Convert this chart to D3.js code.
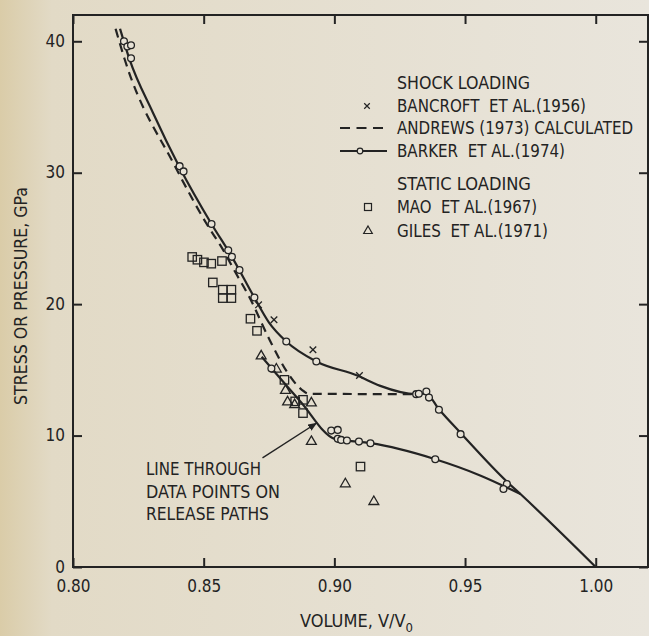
<!DOCTYPE html>
<html>
<head>
<meta charset="utf-8">
<script src="https://cdn.jsdelivr.net/npm/d3@7"></script>
<style>
  body { margin: 0; background: #e7e2d6; }
  svg text { font-family: "Liberation Sans Narrow", "DejaVu Sans Condensed", sans-serif; fill: #232323; white-space: pre; }
</style>
</head>
<body>
<svg id="canvas" width="649" height="636"></svg>
<script>
// Barker et al. (1974) - loading curve and its circles
let barkerLineV = [0.8180, 0.8215, 0.8305, 0.8408, 0.8530, 0.8608, 0.8694, 0.8750, 0.8816, 0.8931, 0.9090, 0.9173, 0.9313, 0.9350, 0.9400, 0.9483, 0.9660, 0.9712, 1.0000]
let barkerLineP = [40.95, 38.7, 34.6, 30.4, 26.1, 23.6, 20.5, 18.6, 17.16, 15.64, 14.55, 13.8, 13.15, 13.2, 12.0, 10.2, 6.5, 5.55, 0]
let barkerPtsV = [0.8195, 0.8208, 0.8222, 0.8222, 0.8408, 0.8423, 0.8530, 0.8594, 0.8608, 0.8637, 0.8694, 0.8816, 0.8931, 0.9313, 0.9323, 0.9352, 0.9362, 0.9400, 0.9483, 0.9660]
let barkerPtsP = [40.0, 39.6, 39.7, 38.7, 30.5, 30.1, 26.1, 24.1, 23.6, 22.6, 20.5, 17.16, 15.64, 13.15, 13.18, 13.35, 12.89, 11.96, 10.11, 6.32]

// line through data points on release paths
let releaseLineV = [0.8722, 0.8870, 0.9001, 0.9048, 0.9138, 0.9386, 0.9560, 0.9712]
let releaseLineP = [16.0, 12.6, 9.75, 9.62, 9.42, 8.2, 6.95, 5.55]
let releasePtsV = [0.8759, 0.8988, 0.9013, 0.9013, 0.9026, 0.9048, 0.9094, 0.9138, 0.9386, 0.9647]
let releasePtsP = [15.1, 10.38, 10.43, 9.75, 9.67, 9.62, 9.54, 9.42, 8.20, 5.94]

// Andrews (1973) calculated
let andrewsV = [0.8163, 0.8197, 0.8389, 0.8511, 0.8576, 0.8618, 0.8676, 0.8752, 0.8821, 0.8867, 0.8905, 0.9313]
let andrewsP = [40.95, 38.67, 30.54, 26.12, 24.07, 22.54, 20.49, 17.29, 14.78, 13.63, 13.18, 13.15]

// Bancroft et al. (1956)
let bancroftV = [0.8710, 0.8769, 0.8918, 0.9096]
let bancroftP = [19.95, 18.81, 16.53, 14.57]

// Mao et al. (1967)
let maoV = [0.8456, 0.8476, 0.8501, 0.8529, 0.8570, 0.8535, 0.8573, 0.8606, 0.8573, 0.8606, 0.8679, 0.8704, 0.8809, 0.8850, 0.8880, 0.8880, 0.9100]
let maoP = [23.59, 23.38, 23.18, 23.08, 23.28, 21.65, 21.10, 21.10, 20.46, 20.46, 18.89, 17.97, 14.24, 12.60, 12.72, 11.71, 7.64]

// Giles et al. (1971)
let gilesV = [0.8720, 0.8778, 0.8813, 0.8821, 0.8848, 0.8912, 0.8912, 0.9042, 0.9151]
let gilesP = [16.05, 15.05, 13.43, 12.55, 12.34, 12.47, 9.54, 6.32, 4.97]

let xTicks = [0.80, 0.85, 0.90, 0.95, 1.00]
let yTicks = [0, 10, 20, 30, 40]

// arrow of the note, from text to release line
let arrowV = [0.8725, 0.8931]
let arrowP = [8.30, 10.94]

let noteLines = ['LINE THROUGH', 'DATA POINTS ON', 'RELEASE PATHS']
let legendLabels = ['SHOCK LOADING', 'BANCROFT  ET AL.(1956)', 'ANDREWS (1973) CALCULATED', 'BARKER  ET AL.(1974)',
                    'STATIC LOADING', 'MAO  ET AL.(1967)', 'GILES  ET AL.(1971)']
let legendMarks = [null, 'x', 'dash', 'line', null, 'square', 'triangle']

// layout of the legend and note (pixels)
let legendY = [89, 112, 134, 157, 190, 213, 237]
let legendW = [133, 189, 236, 168, 134, 140, 151]
let noteW = [115, 134, 123]

let ink = '#232323'
let paper = '#e7e2d6'
let font = '"Liberation Sans Narrow", "DejaVu Sans Condensed", sans-serif'

let zip = (a, b) => a.map((v, i) => [v, b[i]])

let canvas = d3.select('#canvas')

// paper
let defs = canvas.append('defs')
let grad = defs.append('linearGradient').attr('id', 'paper')
grad.append('stop').attr('offset', '0%').attr('stop-color', '#dacca8')
grad.append('stop').attr('offset', '8%').attr('stop-color', '#e2dac6')
grad.append('stop').attr('offset', '100%').attr('stop-color', '#e9e5dc')
canvas.append('rect').attr('width', 649).attr('height', 636).attr('fill', 'url(#paper)')

defs.append('marker')
    .attr('id', 'head')
    .attr('viewBox', '0 0 10 10')
    .attr('refX', 9).attr('refY', 5)
    .attr('markerWidth', 9).attr('markerHeight', 9)
    .attr('markerUnits', 'userSpaceOnUse')
    .attr('orient', 'auto')
    .append('path').attr('d', 'M0,1 L10,5 L0,9 Z').attr('fill', ink)

let x = d3.scaleLinear().domain([0.80, 1.02]).range([73, 648])
let y = d3.scaleLinear().domain([0, 42]).range([567, 15])

let tick = 9

// axes, ticks point inward
let axBottom = canvas.append('g').attr('transform', 'translate(0,567)')
    .call(d3.axisBottom(x).tickValues(xTicks).tickSize(-tick).tickPadding(13).tickFormat(d3.format('.2f')))
let axLeft = canvas.append('g').attr('transform', 'translate(73,0)')
    .call(d3.axisLeft(y).tickValues(yTicks).tickSize(-tick).tickPadding(8))
let axTop = canvas.append('g').attr('transform', 'translate(0,15)')
    .call(d3.axisTop(x).tickValues(xTicks).tickSize(-tick).tickFormat(''))
let axRight = canvas.append('g').attr('transform', 'translate(648,0)')
    .call(d3.axisRight(y).tickValues(yTicks).tickSize(-tick).tickFormat(''))

;[axBottom, axLeft, axTop, axRight].forEach(g => {
    g.select('.domain').remove()
    g.selectAll('line').attr('stroke', ink).attr('stroke-width', 2)
    g.selectAll('text').attr('font-size', 17).attr('fill', ink).style('font-family', font)
})
axLeft.selectAll('text').attr('dy', '0.3em')

canvas.append('rect')
    .attr('x', 73).attr('y', 15).attr('width', 648 - 73).attr('height', 567 - 15)
    .attr('fill', 'none').attr('stroke', ink).attr('stroke-width', 2)

// axis titles
canvas.append('text')
    .attr('transform', 'translate(27,296) rotate(-90)')
    .attr('text-anchor', 'middle').attr('font-size', 18)
    .attr('textLength', 218).attr('lengthAdjust', 'spacingAndGlyphs')
    .text('STRESS OR PRESSURE, GPa')

let xt = canvas.append('text')
    .attr('x', 300).attr('y', 627).attr('font-size', 18)
xt.append('tspan').text('VOLUME, V/V')
xt.append('tspan').attr('dy', 5).attr('font-size', 13).text('0')

let line = d3.line().x(d => x(d[0])).y(d => y(d[1])).curve(d3.curveMonotoneX)

canvas.append('path').datum(zip(andrewsV, andrewsP))
    .attr('d', line).attr('fill', 'none').attr('stroke', ink)
    .attr('stroke-width', 2.2).attr('stroke-dasharray', '9,6')

canvas.append('path').datum(zip(barkerLineV, barkerLineP))
    .attr('d', line).attr('fill', 'none').attr('stroke', ink).attr('stroke-width', 2.2)

canvas.append('path').datum(zip(releaseLineV, releaseLineP))
    .attr('d', line).attr('fill', 'none').attr('stroke', ink).attr('stroke-width', 2.2)

// Mao squares
canvas.selectAll('rect.mao')
    .data(zip(maoV, maoP))
    .enter().append('rect').attr('class', 'mao')
    .attr('x', d => x(d[0]) - 4.2).attr('y', d => y(d[1]) - 4.2)
    .attr('width', 8.4).attr('height', 8.4)
    .attr('fill', 'none').attr('stroke', ink).attr('stroke-width', 1.3)

// Giles triangles
let tri = d3.symbol().type(d3.symbolTriangle).size(42)
canvas.selectAll('path.giles')
    .data(zip(gilesV, gilesP))
    .enter().append('path').attr('class', 'giles')
    .attr('d', tri)
    .attr('transform', d => `translate(${x(d[0])},${y(d[1])})`)
    .attr('fill', 'none').attr('stroke', ink).attr('stroke-width', 1.3)

// Bancroft crosses
let cross = d3.symbol().type(d3.symbolX).size(30)
canvas.selectAll('path.bancroft')
    .data(zip(bancroftV, bancroftP))
    .enter().append('path').attr('class', 'bancroft')
    .attr('d', cross)
    .attr('transform', d => `translate(${x(d[0])},${y(d[1])})`)
    .attr('fill', 'none').attr('stroke', ink).attr('stroke-width', 1.3)

// Barker circles
canvas.selectAll('circle.barker')
    .data(zip(barkerPtsV, barkerPtsP).concat(zip(releasePtsV, releasePtsP)))
    .enter().append('circle').attr('class', 'barker')
    .attr('cx', d => x(d[0])).attr('cy', d => y(d[1])).attr('r', 3.4)
    .attr('fill', paper).attr('stroke', ink).attr('stroke-width', 1.3)

// note with arrow
canvas.append('line')
    .attr('x1', x(arrowV[0])).attr('y1', y(arrowP[0]))
    .attr('x2', x(arrowV[1])).attr('y2', y(arrowP[1]))
    .attr('stroke', ink).attr('stroke-width', 1.4).attr('marker-end', 'url(#head)')

noteLines.forEach((t, i) => {
    canvas.append('text').attr('x', 146).attr('y', 475 + i * 22.5)
        .attr('font-size', 18)
        .attr('textLength', noteW[i]).attr('lengthAdjust', 'spacingAndGlyphs')
        .text(t)
})

// legend
let lg = canvas.append('g')
legendLabels.forEach((t, i) => {
    lg.append('text').attr('x', 397).attr('y', legendY[i]).attr('font-size', 17)
        .attr('textLength', legendW[i]).attr('lengthAdjust', 'spacingAndGlyphs')
        .text(t)

    let my = legendY[i] - 6
    let mark = legendMarks[i]
    if (mark === 'x') {
        lg.append('path').attr('d', d3.symbol().type(d3.symbolX).size(22))
            .attr('transform', `translate(367,${my})`)
            .attr('fill', 'none').attr('stroke', ink).attr('stroke-width', 1.2)
    } else if (mark === 'dash') {
        lg.append('line').attr('x1', 340).attr('x2', 387).attr('y1', my).attr('y2', my)
            .attr('stroke', ink).attr('stroke-width', 2.2).attr('stroke-dasharray', '10,6.5')
    } else if (mark === 'line') {
        lg.append('line').attr('x1', 340).attr('x2', 387).attr('y1', my).attr('y2', my)
            .attr('stroke', ink).attr('stroke-width', 2.2)
        lg.append('circle').attr('cx', 360).attr('cy', my).attr('r', 2.8)
            .attr('fill', paper).attr('stroke', ink).attr('stroke-width', 1.2)
    } else if (mark === 'square') {
        lg.append('rect').attr('x', 364.5).attr('y', my - 3.5).attr('width', 7).attr('height', 7)
            .attr('fill', 'none').attr('stroke', ink).attr('stroke-width', 1.2)
    } else if (mark === 'triangle') {
        lg.append('path').attr('d', d3.symbol().type(d3.symbolTriangle).size(32))
            .attr('transform', `translate(368,${my})`)
            .attr('fill', 'none').attr('stroke', ink).attr('stroke-width', 1.2)
    }
})
</script>
</body>
</html>
